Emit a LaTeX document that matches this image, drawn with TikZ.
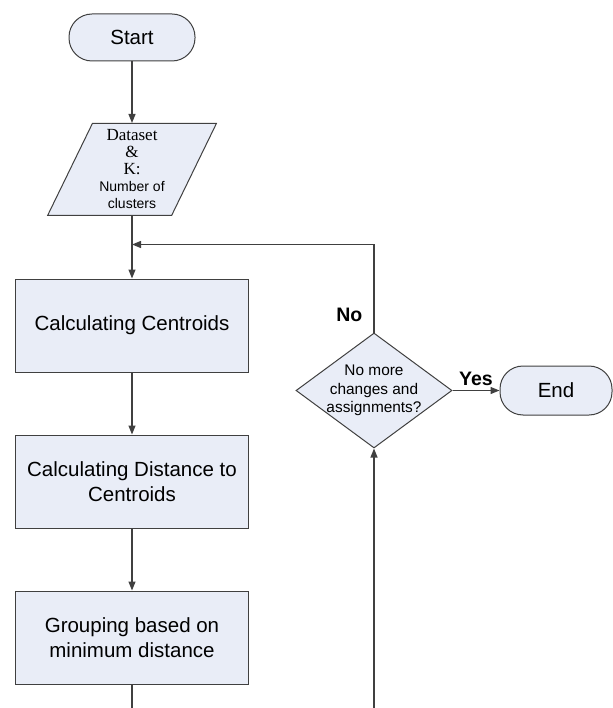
\documentclass[tikz,border=0pt]{standalone}
\usepackage{fontspec}
\setmainfont{Liberation Sans}
\newfontfamily\timesfont{Liberation Serif}
\usetikzlibrary{shapes.geometric, arrows.meta}
\definecolor{boxfill}{RGB}{233,237,247}
\definecolor{boxline}{RGB}{64,64,64}
\newcommand{\qsize}{\fontsize{15.4}{18.5}\selectfont}
\tikzstyle{startstop} = [rectangle, rounded corners=23pt, minimum width=126pt, minimum height=47pt, text centered, draw=boxline, fill=boxfill, line width=1pt, font=\fontsize{20.5}{25}\selectfont]
\tikzstyle{io} = [trapezium, trapezium left angle=65, trapezium right angle=115, trapezium stretches=true, minimum width=169pt, minimum height=92pt, inner sep=0pt, align=center, draw=boxline, fill=boxfill, line width=1pt, font=\fontsize{14}{17}\selectfont]
\tikzstyle{process} = [rectangle, minimum width=233pt, minimum height=93pt, align=center, draw=boxline, fill=boxfill, line width=1pt, font=\fontsize{20.5}{25}\selectfont]
\tikzstyle{decision} = [diamond, minimum width=156pt, minimum height=115pt, inner sep=0pt, draw=boxline, fill=boxfill, line width=1pt, font=\qsize]
\tikzstyle{arrow} = [line width=1.2pt, draw=boxline, ->, >={Triangle[length=9pt,width=7pt]}]
\tikzstyle{line} = [line width=1.2pt, draw=boxline]
\tikzstyle{answer} = [inner sep=0pt, font=\bfseries\fontsize{19.5}{22}\selectfont]

\begin{document}
\begin{tikzpicture}[x=1pt, y=1pt, node distance=156pt]
      \useasboundingbox (0,0) rectangle (612,-708);
      % Nodes
      \node (start) [startstop] at (132,-37.5) {Start};
      \node (data) [io, below of=start, yshift=24pt] {\timesfont\fontsize{17}{17}\selectfont Dataset\\ \timesfont\fontsize{17}{17}\selectfont \&\\ \timesfont\fontsize{17}{17}\selectfont K:\\ Number of\\ clusters};
      \node (centroids) [process, below of=data] {Calculating Centroids};
      \node (distance) [process, below of=centroids] {Calculating Distance to\\ Centroids};
      \node (grouping) [process, below of=distance] {Grouping based on\\ minimum distance};
      \node (check) [decision] at (374,-390.5) {\makebox[0pt]{\raisebox{-3.85pt}[0pt][0pt]{\begin{tabular}{@{}c@{}}\qsize No more\\ \qsize changes and\\ \qsize assignments?\end{tabular}}}};
      \node (stop) [startstop, right of=check, xshift=26pt, minimum width=112pt, minimum height=49pt] {End};
      \coordinate (merge) at ([yshift=34pt]centroids.north);
      \coordinate (outA) at ([yshift=-25pt]grouping.south);
      \coordinate (inB) at (check |- outA);
      % Arrows
      \draw [arrow] (start) -- (data);
      \draw [arrow] (data) -- (centroids);
      \draw [arrow] (centroids) -- (distance);
      \draw [arrow] (distance) -- (grouping);
      \draw [line] (grouping) -- (outA);
      \draw [arrow] (inB) -- (check);
      \draw [arrow] (check) -- node[answer, above=4pt] {Yes} (stop);
      \draw [arrow] (check.north) |- node[answer, pos=0.1, left=11pt] {No} (merge);
    \end{tikzpicture}
\end{document}
